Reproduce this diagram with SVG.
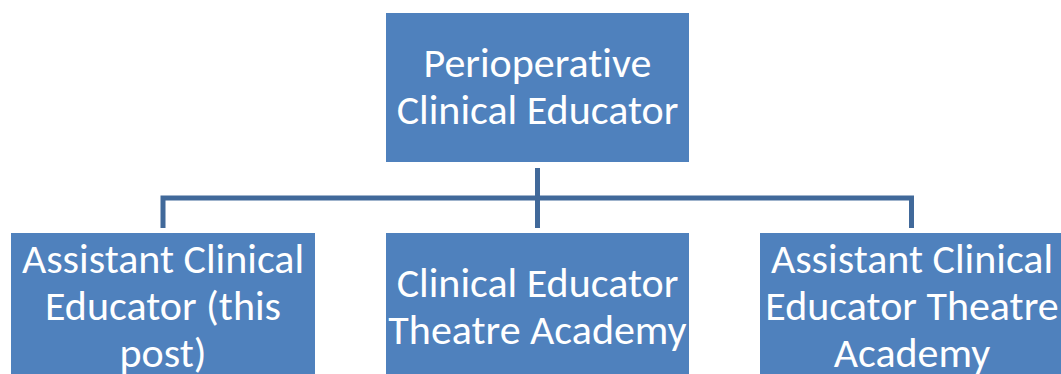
<svg xmlns="http://www.w3.org/2000/svg" width="1061" height="374" viewBox="0 0 1061 374">
  <style>
    .box { fill: #4F81BD; }
    .label { fill: #FFFFFF; font-family: Calibri, Carlito, "Liberation Sans", sans-serif; font-size: 42px; text-anchor: middle; font-variant-ligatures: none; }
    .link { fill: none; stroke: #41699A; stroke-width: 5; stroke-linejoin: miter; }
  </style>
  <rect width="1061" height="374" fill="#FFFFFF"/>

  <!-- connectors from the head post down to the three reports -->
  <g id="connectors">
    <path class="link" d="M537.5 168 V228"/>
    <path class="link" d="M163 228 V198 H911.5 V228"/>
  </g>

  <g id="node-perioperative">
    <rect class="box" x="386" y="13" width="303" height="149"/>
    <text class="label" x="537.5" y="77">Perioperative</text>
    <text class="label" x="537.5" y="123.5">Clinical Educator</text>
  </g>

  <g id="node-assistant-this-post">
    <rect class="box" x="11" y="233" width="304" height="150"/>
    <text class="label" x="163" y="273">Assistant Clinical</text>
    <text class="label" x="163" y="320">Educator (this</text>
    <text class="label" x="163" y="367">post)</text>
  </g>

  <g id="node-educator-academy">
    <rect class="box" x="386" y="233" width="303" height="150"/>
    <text class="label" x="537.5" y="297">Clinical Educator</text>
    <text class="label" x="537.5" y="344">Theatre Academy</text>
  </g>

  <g id="node-assistant-academy">
    <rect class="box" x="760" y="233" width="304" height="150"/>
    <text class="label" x="912" y="273">Assistant Clinical</text>
    <text class="label" x="912" y="320">Educator Theatre</text>
    <text class="label" x="912" y="367">Academy</text>
  </g>
</svg>
